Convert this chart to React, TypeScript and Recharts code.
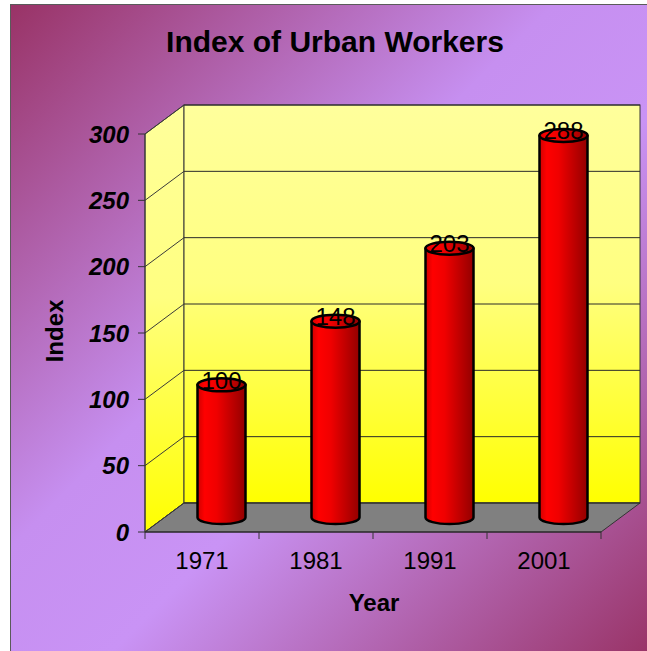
import { BarChart, Bar, XAxis, YAxis, CartesianGrid, LabelList } from 'recharts'

const YEARS = ['1971', '1981', '1991', '2001']
const INDEX_VALUES = [100, 148, 203, 288]
const Y_TICKS = [0, 50, 100, 150, 200, 250, 300]

const data = YEARS.map((year, i) => ({ year, value: INDEX_VALUES[i] }))

// 3D depth of the walls (back wall sits up and to the right of the front plane)
const DX = 39
const DY = -29
const FONT = '"Liberation Sans", Arial, Helvetica, sans-serif'

// eslint-disable-next-line @typescript-eslint/no-explicit-any
function Walls({ x, y, width, height }: any) {
  const bottom = y + height
  return (
    <g>
      <defs>
        <linearGradient id="wallFill" x1="0" y1="0" x2="0" y2="1">
          <stop offset="0" stopColor="#ffff9c" />
          <stop offset="0.45" stopColor="#ffff80" />
          <stop offset="1" stopColor="#ffff00" />
        </linearGradient>
      </defs>
      <polygon
        points={`${x},${y} ${x + DX},${y + DY} ${x + DX},${bottom + DY} ${x},${bottom}`}
        fill="url(#wallFill)"
        stroke="#444"
        strokeWidth={1}
      />
      <rect x={x + DX} y={y + DY} width={width} height={height} fill="url(#wallFill)" stroke="#333" strokeWidth={1} />
      <polygon
        points={`${x},${bottom} ${x + width},${bottom} ${x + width + DX},${bottom + DY} ${x + DX},${bottom + DY}`}
        fill="#808080"
        stroke="#333"
        strokeWidth={1}
      />
    </g>
  )
}

// eslint-disable-next-line @typescript-eslint/no-explicit-any
function gridLine(props: any) {
  const { x1, x2, y1, index } = props
  return (
    <g key={`grid-${index}`}>
      {index === 0 && <Walls x={props.x} y={props.y} width={props.width} height={props.height} />}
      <line x1={x1 + DX} y1={y1 + DY} x2={x2 + DX} y2={y1 + DY} stroke="#2a2a2a" strokeWidth={1} />
      <line x1={x1} y1={y1} x2={x1 + DX} y2={y1 + DY} stroke="#3a3a3a" strokeWidth={1} />
    </g>
  )
}

// eslint-disable-next-line @typescript-eslint/no-explicit-any
function Cylinder(props: any) {
  const { x, y, width, height, index } = props
  const rx = width / 2
  const ry = 6.5
  const cx = x + rx + DX / 2
  const top = y + DY / 2
  const bottom = y + height + DY / 2
  const id = `cyl-${index}`
  return (
    <g>
      <defs>
        <linearGradient id={id} x1="0" y1="0" x2="1" y2="0">
          <stop offset="0" stopColor="#d00000" />
          <stop offset="0.15" stopColor="#ff0000" />
          <stop offset="0.4" stopColor="#f00000" />
          <stop offset="1" stopColor="#930000" />
        </linearGradient>
      </defs>
      <path
        d={`M${cx - rx},${top} L${cx - rx},${bottom} A${rx},${ry} 0 0 0 ${cx + rx},${bottom} L${cx + rx},${top} Z`}
        fill={`url(#${id})`}
        stroke="#000"
        strokeWidth={2.5}
        strokeLinejoin="round"
      />
      <ellipse cx={cx} cy={top} rx={rx} ry={ry} fill={`url(#${id})`} stroke="#000" strokeWidth={2.5} />
    </g>
  )
}

// eslint-disable-next-line @typescript-eslint/no-explicit-any
function renderValueLabel(props: any) {
  const vb = props.viewBox ?? {}
  const x = props.x ?? vb.x
  const y = props.y ?? vb.y
  const width = props.width ?? vb.width
  return (
    <text
      x={x + width / 2 + DX / 2}
      y={y + DY / 2 + 4}
      textAnchor="middle"
      fontSize={24}
      fontFamily={FONT}
      fill="#000"
    >
      {props.value}
    </text>
  )
}

// eslint-disable-next-line @typescript-eslint/no-explicit-any
function renderYTick(props: any) {
  const { x, y, payload } = props
  return (
    <text
      x={x}
      y={y}
      dy="0.36em"
      textAnchor="end"
      fontSize={24}
      fontWeight="bold"
      fontStyle="italic"
      fontFamily={FONT}
      fill="#000"
    >
      {payload.value}
    </text>
  )
}

// eslint-disable-next-line @typescript-eslint/no-explicit-any
function renderXTick(props: any) {
  const { x, y, payload, index, visibleTicksCount, width } = props
  const axisY = y - 7
  const band = typeof width === 'number' && visibleTicksCount ? width / visibleTicksCount : 114
  const left = x - band / 2
  const right = x + band / 2
  return (
    <g>
      <line x1={left} y1={axisY} x2={left} y2={axisY + 7} stroke="#333" />
      {index === visibleTicksCount - 1 && (
        <line x1={right} y1={axisY} x2={right} y2={axisY + 7} stroke="#333" />
      )}
      <text x={x} y={axisY + 37} textAnchor="middle" fontSize={24} fontFamily={FONT} fill="#000">
        {payload.value}
      </text>
    </g>
  )
}

export default function App() {
  return (
    <>
      <style>{'body{margin:0;overflow:hidden}'}</style>
      <div
        style={{
          position: 'absolute',
          left: 10,
          top: 4,
          width: 640,
          height: 650,
          border: '1px solid #5a5a5a',
          background: 'linear-gradient(135deg, #993366 0%, #c68ff0 42%, #c993f5 58%, #993366 100%)',
        }}
      >
        <BarChart
          width={640}
          height={650}
          data={data}
          margin={{ top: 129, right: 50, bottom: 63, left: 74 }}
        >
          <CartesianGrid vertical={false} horizontal={gridLine} />
          <XAxis
            dataKey="year"
            height={60}
            interval={0}
            tickSize={7}
            tickMargin={0}
            tickLine={false}
            axisLine={{ stroke: '#222' }}
            tick={renderXTick}
          />
          <YAxis
            domain={[0, 300]}
            ticks={Y_TICKS}
            interval={0}
            width={60}
            tickSize={7}
            tickMargin={9}
            axisLine={{ stroke: '#333' }}
            tickLine={{ stroke: '#333' }}
            tick={renderYTick}
          />
          <Bar dataKey="value" barSize={48} shape={Cylinder} isAnimationActive={false}>
            <LabelList dataKey="value" content={renderValueLabel} />
          </Bar>
        </BarChart>
        <svg
          width={640}
          height={650}
          style={{ position: 'absolute', left: 0, top: 0, pointerEvents: 'none' }}
        >
          <text x={324} y={47} textAnchor="middle" fontSize={30} fontWeight="bold" fontFamily={FONT} fill="#000">
            Index of Urban Workers
          </text>
          <text
            transform="translate(52, 326) rotate(-90)"
            textAnchor="middle"
            fontSize={24}
            fontWeight="bold"
            fontFamily={FONT}
            fill="#000"
          >
            Index
          </text>
          <text x={363} y={606} textAnchor="middle" fontSize={24} fontWeight="bold" fontFamily={FONT} fill="#000">
            Year
          </text>
        </svg>
      </div>
    </>
  )
}
